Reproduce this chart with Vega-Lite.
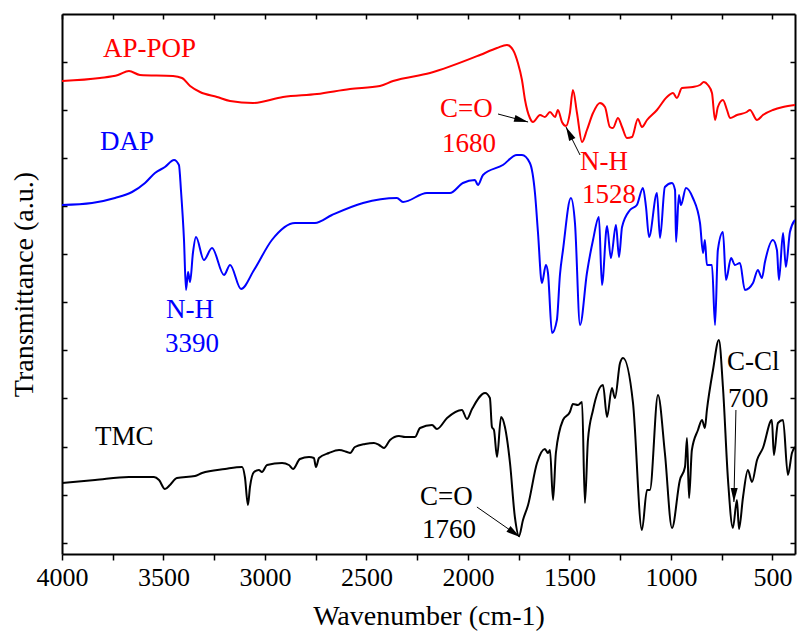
{
  "$schema": "https://vega.github.io/schema/vega-lite/v6.json",
  "width": 733,
  "height": 540,
  "autosize": {"type": "none"},
  "padding": {"left": 62, "top": 14, "right": 4, "bottom": 87},
  "background": "white",
  "config": {
    "view": {"stroke": null},
    "axis": {
      "domainColor": "black", "domainWidth": 2, "tickColor": "black", "tickWidth": 1.5,
      "grid": false, "labelFont": "Liberation Serif", "titleFont": "Liberation Serif",
      "labelFontSize": 26, "titleFontSize": 28, "titleFontWeight": "normal",
      "labelColor": "black", "titleColor": "black"
    }
  },
  "datasets": {
    "spectra": [
      {"s":"AP-POP","wn":4000,"t":473},{"s":"AP-POP","wn":3813,"t":476},{"s":"AP-POP","wn":3724,"t":479},{"s":"AP-POP","wn":3670,"t":483},{"s":"AP-POP","wn":3616,"t":479},{"s":"AP-POP","wn":3453,"t":478},{"s":"AP-POP","wn":3409,"t":476},{"s":"AP-POP","wn":3369,"t":468},{"s":"AP-POP","wn":3320,"t":462},{"s":"AP-POP","wn":3236,"t":457},{"s":"AP-POP","wn":3172,"t":453},{"s":"AP-POP","wn":3059,"t":451},{"s":"AP-POP","wn":2911,"t":457},{"s":"AP-POP","wn":2744,"t":460},{"s":"AP-POP","wn":2581,"t":465},{"s":"AP-POP","wn":2434,"t":468},{"s":"AP-POP","wn":2369,"t":473},{"s":"AP-POP","wn":2187,"t":481},{"s":"AP-POP","wn":1941,"t":499},{"s":"AP-POP","wn":1857,"t":506},{"s":"AP-POP","wn":1808,"t":509},{"s":"AP-POP","wn":1778,"t":504},{"s":"AP-POP","wn":1754,"t":491},{"s":"AP-POP","wn":1734,"t":474},{"s":"AP-POP","wn":1719,"t":454},{"s":"AP-POP","wn":1695,"t":436},{"s":"AP-POP","wn":1680,"t":432},{"s":"AP-POP","wn":1645,"t":439},{"s":"AP-POP","wn":1621,"t":437},{"s":"AP-POP","wn":1596,"t":442},{"s":"AP-POP","wn":1571,"t":437},{"s":"AP-POP","wn":1557,"t":444},{"s":"AP-POP","wn":1537,"t":432},{"s":"AP-POP","wn":1517,"t":428},{"s":"AP-POP","wn":1498,"t":441},{"s":"AP-POP","wn":1483,"t":464},{"s":"AP-POP","wn":1463,"t":441},{"s":"AP-POP","wn":1438,"t":412},{"s":"AP-POP","wn":1414,"t":424},{"s":"AP-POP","wn":1384,"t":441},{"s":"AP-POP","wn":1350,"t":451},{"s":"AP-POP","wn":1325,"t":447},{"s":"AP-POP","wn":1301,"t":427},{"s":"AP-POP","wn":1286,"t":426},{"s":"AP-POP","wn":1261,"t":436},{"s":"AP-POP","wn":1241,"t":427},{"s":"AP-POP","wn":1217,"t":416},{"s":"AP-POP","wn":1192,"t":417},{"s":"AP-POP","wn":1163,"t":435},{"s":"AP-POP","wn":1143,"t":427},{"s":"AP-POP","wn":1118,"t":434},{"s":"AP-POP","wn":1069,"t":444},{"s":"AP-POP","wn":1020,"t":457},{"s":"AP-POP","wn":990,"t":461},{"s":"AP-POP","wn":971,"t":456},{"s":"AP-POP","wn":946,"t":466},{"s":"AP-POP","wn":892,"t":467},{"s":"AP-POP","wn":857,"t":469},{"s":"AP-POP","wn":838,"t":472},{"s":"AP-POP","wn":818,"t":469},{"s":"AP-POP","wn":798,"t":461},{"s":"AP-POP","wn":783,"t":434},{"s":"AP-POP","wn":769,"t":447},{"s":"AP-POP","wn":744,"t":454},{"s":"AP-POP","wn":724,"t":444},{"s":"AP-POP","wn":709,"t":436},{"s":"AP-POP","wn":675,"t":439},{"s":"AP-POP","wn":626,"t":442},{"s":"AP-POP","wn":611,"t":444},{"s":"AP-POP","wn":576,"t":434},{"s":"AP-POP","wn":547,"t":439},{"s":"AP-POP","wn":498,"t":444},{"s":"AP-POP","wn":448,"t":447},{"s":"AP-POP","wn":389,"t":449},
      {"s":"DAP","wn":4000,"t":349},{"s":"DAP","wn":3852,"t":351},{"s":"DAP","wn":3739,"t":356},{"s":"DAP","wn":3655,"t":362},{"s":"DAP","wn":3591,"t":371},{"s":"DAP","wn":3542,"t":381},{"s":"DAP","wn":3493,"t":387},{"s":"DAP","wn":3448,"t":394},{"s":"DAP","wn":3424,"t":389},{"s":"DAP","wn":3414,"t":364},{"s":"DAP","wn":3399,"t":314},{"s":"DAP","wn":3389,"t":264},{"s":"DAP","wn":3379,"t":282},{"s":"DAP","wn":3369,"t":272},{"s":"DAP","wn":3355,"t":301},{"s":"DAP","wn":3340,"t":317},{"s":"DAP","wn":3301,"t":294},{"s":"DAP","wn":3261,"t":306},{"s":"DAP","wn":3202,"t":279},{"s":"DAP","wn":3172,"t":289},{"s":"DAP","wn":3118,"t":265},{"s":"DAP","wn":3054,"t":284},{"s":"DAP","wn":2966,"t":314},{"s":"DAP","wn":2852,"t":331},{"s":"DAP","wn":2754,"t":331},{"s":"DAP","wn":2670,"t":339},{"s":"DAP","wn":2517,"t":351},{"s":"DAP","wn":2350,"t":356},{"s":"DAP","wn":2320,"t":352},{"s":"DAP","wn":2202,"t":361},{"s":"DAP","wn":2089,"t":361},{"s":"DAP","wn":2025,"t":371},{"s":"DAP","wn":1966,"t":374},{"s":"DAP","wn":1951,"t":369},{"s":"DAP","wn":1926,"t":379},{"s":"DAP","wn":1828,"t":389},{"s":"DAP","wn":1759,"t":399},{"s":"DAP","wn":1734,"t":399},{"s":"DAP","wn":1695,"t":391},{"s":"DAP","wn":1670,"t":361},{"s":"DAP","wn":1655,"t":321},{"s":"DAP","wn":1636,"t":271},{"s":"DAP","wn":1616,"t":289},{"s":"DAP","wn":1606,"t":281},{"s":"DAP","wn":1586,"t":221},{"s":"DAP","wn":1562,"t":234},{"s":"DAP","wn":1547,"t":279},{"s":"DAP","wn":1532,"t":304},{"s":"DAP","wn":1493,"t":356},{"s":"DAP","wn":1473,"t":331},{"s":"DAP","wn":1448,"t":229},{"s":"DAP","wn":1414,"t":281},{"s":"DAP","wn":1384,"t":314},{"s":"DAP","wn":1355,"t":337},{"s":"DAP","wn":1340,"t":269},{"s":"DAP","wn":1315,"t":328},{"s":"DAP","wn":1296,"t":296},{"s":"DAP","wn":1271,"t":329},{"s":"DAP","wn":1256,"t":297},{"s":"DAP","wn":1241,"t":327},{"s":"DAP","wn":1202,"t":344},{"s":"DAP","wn":1168,"t":349},{"s":"DAP","wn":1138,"t":366},{"s":"DAP","wn":1123,"t":347},{"s":"DAP","wn":1108,"t":317},{"s":"DAP","wn":1069,"t":361},{"s":"DAP","wn":1054,"t":316},{"s":"DAP","wn":1030,"t":367},{"s":"DAP","wn":995,"t":371},{"s":"DAP","wn":980,"t":364},{"s":"DAP","wn":975,"t":312},{"s":"DAP","wn":961,"t":359},{"s":"DAP","wn":951,"t":349},{"s":"DAP","wn":926,"t":366},{"s":"DAP","wn":892,"t":356},{"s":"DAP","wn":857,"t":331},{"s":"DAP","wn":842,"t":301},{"s":"DAP","wn":833,"t":314},{"s":"DAP","wn":823,"t":289},{"s":"DAP","wn":798,"t":289},{"s":"DAP","wn":783,"t":229},{"s":"DAP","wn":769,"t":304},{"s":"DAP","wn":744,"t":322},{"s":"DAP","wn":729,"t":274},{"s":"DAP","wn":704,"t":296},{"s":"DAP","wn":685,"t":289},{"s":"DAP","wn":660,"t":291},{"s":"DAP","wn":636,"t":264},{"s":"DAP","wn":596,"t":271},{"s":"DAP","wn":572,"t":284},{"s":"DAP","wn":552,"t":276},{"s":"DAP","wn":537,"t":292},{"s":"DAP","wn":498,"t":314},{"s":"DAP","wn":478,"t":304},{"s":"DAP","wn":468,"t":274},{"s":"DAP","wn":448,"t":321},{"s":"DAP","wn":434,"t":287},{"s":"DAP","wn":414,"t":322},{"s":"DAP","wn":389,"t":334},
      {"s":"TMC","wn":4000,"t":71},{"s":"TMC","wn":3837,"t":74},{"s":"TMC","wn":3670,"t":77},{"s":"TMC","wn":3547,"t":77},{"s":"TMC","wn":3522,"t":74},{"s":"TMC","wn":3493,"t":65},{"s":"TMC","wn":3468,"t":69},{"s":"TMC","wn":3434,"t":76},{"s":"TMC","wn":3345,"t":78},{"s":"TMC","wn":3310,"t":81},{"s":"TMC","wn":3197,"t":85},{"s":"TMC","wn":3113,"t":87},{"s":"TMC","wn":3099,"t":77},{"s":"TMC","wn":3084,"t":49},{"s":"TMC","wn":3074,"t":67},{"s":"TMC","wn":3054,"t":82},{"s":"TMC","wn":3030,"t":84},{"s":"TMC","wn":3015,"t":82},{"s":"TMC","wn":2990,"t":89},{"s":"TMC","wn":2916,"t":91},{"s":"TMC","wn":2882,"t":89},{"s":"TMC","wn":2862,"t":85},{"s":"TMC","wn":2828,"t":95},{"s":"TMC","wn":2783,"t":97},{"s":"TMC","wn":2759,"t":96},{"s":"TMC","wn":2749,"t":87},{"s":"TMC","wn":2734,"t":96},{"s":"TMC","wn":2685,"t":101},{"s":"TMC","wn":2635,"t":104},{"s":"TMC","wn":2596,"t":102},{"s":"TMC","wn":2581,"t":101},{"s":"TMC","wn":2557,"t":107},{"s":"TMC","wn":2507,"t":110},{"s":"TMC","wn":2463,"t":111},{"s":"TMC","wn":2438,"t":109},{"s":"TMC","wn":2414,"t":106},{"s":"TMC","wn":2384,"t":114},{"s":"TMC","wn":2340,"t":118},{"s":"TMC","wn":2310,"t":117},{"s":"TMC","wn":2261,"t":117},{"s":"TMC","wn":2236,"t":126},{"s":"TMC","wn":2177,"t":129},{"s":"TMC","wn":2153,"t":125},{"s":"TMC","wn":2103,"t":136},{"s":"TMC","wn":2030,"t":144},{"s":"TMC","wn":2005,"t":135},{"s":"TMC","wn":1980,"t":145},{"s":"TMC","wn":1916,"t":161},{"s":"TMC","wn":1892,"t":156},{"s":"TMC","wn":1882,"t":127},{"s":"TMC","wn":1872,"t":124},{"s":"TMC","wn":1857,"t":97},{"s":"TMC","wn":1837,"t":137},{"s":"TMC","wn":1818,"t":127},{"s":"TMC","wn":1793,"t":91},{"s":"TMC","wn":1769,"t":37},{"s":"TMC","wn":1749,"t":18},{"s":"TMC","wn":1729,"t":34},{"s":"TMC","wn":1704,"t":49},{"s":"TMC","wn":1660,"t":91},{"s":"TMC","wn":1621,"t":105},{"s":"TMC","wn":1606,"t":101},{"s":"TMC","wn":1596,"t":104},{"s":"TMC","wn":1581,"t":54},{"s":"TMC","wn":1567,"t":101},{"s":"TMC","wn":1532,"t":134},{"s":"TMC","wn":1498,"t":142},{"s":"TMC","wn":1483,"t":150},{"s":"TMC","wn":1458,"t":149},{"s":"TMC","wn":1438,"t":152},{"s":"TMC","wn":1424,"t":51},{"s":"TMC","wn":1409,"t":114},{"s":"TMC","wn":1384,"t":144},{"s":"TMC","wn":1335,"t":169},{"s":"TMC","wn":1315,"t":137},{"s":"TMC","wn":1291,"t":166},{"s":"TMC","wn":1276,"t":156},{"s":"TMC","wn":1251,"t":191},{"s":"TMC","wn":1236,"t":196},{"s":"TMC","wn":1187,"t":151},{"s":"TMC","wn":1143,"t":24},{"s":"TMC","wn":1118,"t":64},{"s":"TMC","wn":1104,"t":64},{"s":"TMC","wn":1064,"t":159},{"s":"TMC","wn":1030,"t":101},{"s":"TMC","wn":995,"t":26},{"s":"TMC","wn":956,"t":74},{"s":"TMC","wn":931,"t":87},{"s":"TMC","wn":921,"t":116},{"s":"TMC","wn":911,"t":56},{"s":"TMC","wn":897,"t":104},{"s":"TMC","wn":867,"t":124},{"s":"TMC","wn":847,"t":134},{"s":"TMC","wn":833,"t":126},{"s":"TMC","wn":823,"t":144},{"s":"TMC","wn":793,"t":184},{"s":"TMC","wn":764,"t":214},{"s":"TMC","wn":744,"t":167},{"s":"TMC","wn":719,"t":74},{"s":"TMC","wn":695,"t":26},{"s":"TMC","wn":675,"t":54},{"s":"TMC","wn":665,"t":25},{"s":"TMC","wn":645,"t":57},{"s":"TMC","wn":621,"t":84},{"s":"TMC","wn":601,"t":72},{"s":"TMC","wn":576,"t":94},{"s":"TMC","wn":547,"t":106},{"s":"TMC","wn":503,"t":134},{"s":"TMC","wn":493,"t":99},{"s":"TMC","wn":473,"t":131},{"s":"TMC","wn":448,"t":134},{"s":"TMC","wn":424,"t":79},{"s":"TMC","wn":404,"t":101},{"s":"TMC","wn":389,"t":107}
    ],
    "labels": [
      {"s":"AP-POP","wn":3798,"t":497,"text":"AP-POP"},
      {"s":"DAP","wn":3813,"t":404,"text":"DAP"},
      {"s":"DAP","wn":3488,"t":236,"text":"N-H"},
      {"s":"DAP","wn":3493,"t":202,"text":"3390"},
      {"s":"TMC","wn":3837,"t":109,"text":"TMC"},
      {"s":"AP-POP","wn":2138,"t":437,"text":"C=O"},
      {"s":"AP-POP","wn":2128,"t":402,"text":"1680"},
      {"s":"AP-POP","wn":1448,"t":384,"text":"N-H"},
      {"s":"AP-POP","wn":1438,"t":351,"text":"1528"},
      {"s":"TMC","wn":2236,"t":49,"text":"C=O"},
      {"s":"TMC","wn":2227,"t":16,"text":"1760"},
      {"s":"TMC","wn":724,"t":184,"text":"C-Cl"},
      {"s":"TMC","wn":719,"t":147,"text":"700"}
    ],
    "arrows": [
      {"wn1":1852,"t1":440,"wn2":1704,"t2":432},
      {"wn1":1448,"t1":399,"wn2":1517,"t2":427},
      {"wn1":1956,"t1":47,"wn2":1744,"t2":17},
      {"wn1":680,"t1":144,"wn2":690,"t2":52}
    ]
  },
  "layer": [
    {
      "data": {"name": "spectra"},
      "mark": {"type": "line", "strokeWidth": 2, "clip": true, "interpolate": "monotone"},
      "encoding": {
        "x": {"field": "wn", "type": "quantitative", "scale": {"domain": [4000, 389], "nice": false, "zero": false},
          "axis": {"orient": "bottom", "values": [4000,3750,3500,3250,3000,2750,2500,2250,2000,1750,1500,1250,1000,750,500],
            "format": "d", "labelExpr": "datum.value % 500 == 0 ? datum.label : ''", "labelOverlap": false, "labelFlush": false,
            "tickSize": 6, "labelPadding": 4, "title": "Wavenumber (cm-1)", "titlePadding": 12}},
        "y": {"field": "t", "type": "quantitative", "scale": {"domain": [0, 540], "nice": false, "zero": false},
          "axis": {"orient": "left", "values": [11,59,107,156,204,252,300,348,396,444,492], "labels": false, "tickSize": -5,
            "title": "Transmittance (a.u.)", "titleX": -38, "titleY": 270, "titleAngle": -90, "titleAlign": "center", "titleBaseline": "middle"}},
        "color": {"field": "s", "type": "nominal", "scale": {"domain": ["AP-POP","DAP","TMC"], "range": ["#ff0000","#0000ff","#000000"]}, "legend": null}
      }
    },
    {
      "data": {"name": "labels"},
      "mark": {"type": "text", "align": "left", "baseline": "alphabetic", "fontSize": 27, "font": "Liberation Serif"},
      "encoding": {
        "x": {"field": "wn", "type": "quantitative", "scale": {"domain": [4000, 389], "nice": false, "zero": false},
          "axis": {"orient": "top", "values": [4000,3750,3500,3250,3000,2750,2500,2250,2000,1750,1500,1250,1000,750,500], "labels": false, "tickSize": -5, "title": null}},
        "y": {"field": "t", "type": "quantitative", "scale": {"domain": [0, 540], "nice": false, "zero": false},
          "axis": {"orient": "right", "values": [11,59,107,156,204,252,300,348,396,444,492], "labels": false, "tickSize": -5, "title": null}},
        "text": {"field": "text"},
        "color": {"field": "s", "type": "nominal", "legend": null}
      }
    },
    {
      "data": {"name": "arrows"},
      "mark": {"type": "rule", "strokeWidth": 1, "color": "black"},
      "encoding": {
        "x": {"field": "wn1", "type": "quantitative", "scale": {"domain": [4000, 389], "nice": false, "zero": false}, "axis": null},
        "y": {"field": "t1", "type": "quantitative", "scale": {"domain": [0, 540], "nice": false, "zero": false}, "axis": null},
        "x2": {"field": "wn2"},
        "y2": {"field": "t2"}
      }
    },
    {
      "data": {"name": "arrows"},
      "transform": [{"calculate": "atan2((datum.wn1 - datum.wn2) * 0.203, datum.t2 - datum.t1) * 180 / PI", "as": "ang"}],
      "mark": {"type": "point", "shape": "M0,0L0.5,2L-0.5,2Z", "filled": true, "color": "black", "size": 196, "opacity": 1, "strokeWidth": 0},
      "encoding": {
        "x": {"field": "wn2", "type": "quantitative", "scale": {"domain": [4000, 389], "nice": false, "zero": false}, "axis": null},
        "y": {"field": "t2", "type": "quantitative", "scale": {"domain": [0, 540], "nice": false, "zero": false}, "axis": null},
        "angle": {"field": "ang", "type": "quantitative", "scale": null}
      }
    }
  ],
  "resolve": {"axis": {"x": "independent", "y": "independent"}}
}
